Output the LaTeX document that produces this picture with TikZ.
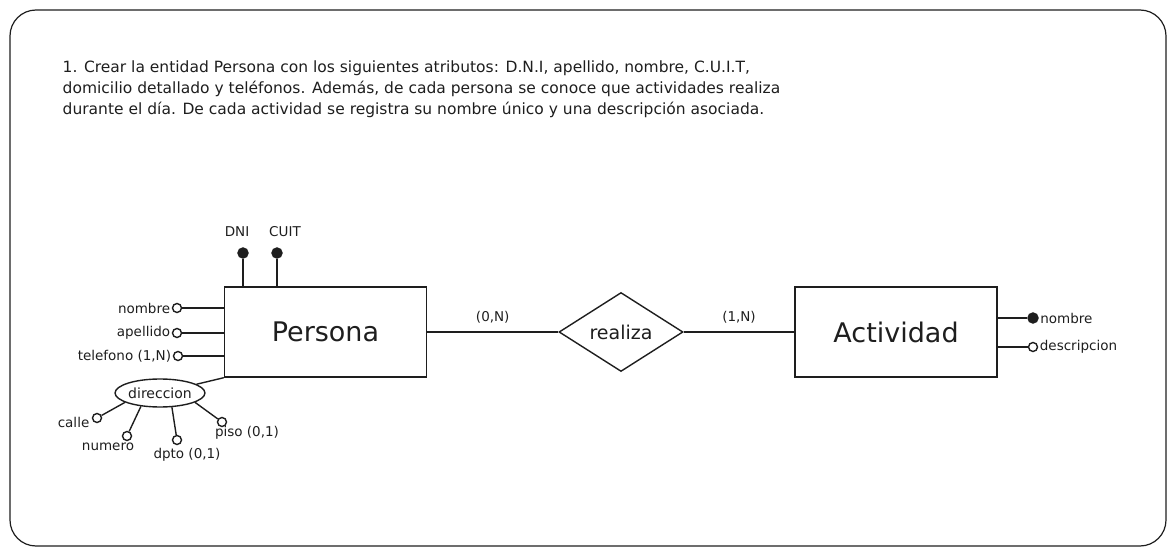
\documentclass[tikz,border=0pt]{standalone}
\usepackage{fontspec}
\setmainfont{DejaVu Sans}
\usetikzlibrary{shapes.geometric, positioning, calc}
\definecolor{ink}{HTML}{1E1E1E}

\begin{document}
\begin{tikzpicture}[x=1pt, y=-1pt, line width=1.4pt, color=ink,
    entidad/.style={draw, rectangle, minimum width=202pt, minimum height=90pt, font=\fontsize{27}{27}\selectfont},
    relacion/.style={draw, diamond, minimum width=124pt, minimum height=79pt, inner sep=0pt, font=\fontsize{19}{19}\selectfont},
    atrib/.style={circle, draw, fill=white, inner sep=0pt, minimum size=9pt},
    clave/.style={circle, draw, fill=ink, inner sep=0pt, minimum size=10pt},
    etiq/.style={inner sep=1pt, font=\fontsize{13.5}{13.5}\selectfont}]

  \useasboundingbox (0,0) rectangle (1176,556);
  \draw[line width=1.2pt, rounded corners=26pt] (10,10) rectangle (1166,546);

  \node[anchor=north west, align=left, inner sep=0pt, font=\fontsize{15.5}{20.8}\selectfont] (enunciado) at (62,60)
    {1. Crear la entidad Persona con los siguientes atributos: D.N.I, apellido, nombre, C.U.I.T,\\
     domicilio detallado y teléfonos. Además, de cada persona se conoce que actividades realiza\\
     durante el día. De cada actividad se registra su nombre único y una descripción asociada.};

  \node[entidad] (persona) at (325.5,332) {Persona};
  \node[relacion] (realiza) at (621,332) {realiza};
  \node[entidad] (actividad) at (896,332) {Actividad};

  \draw (persona) -- node[etiq, above=7pt] (card1) {(0,N)} (realiza);
  \draw (realiza) -- node[etiq, above=7pt] (card2) {(1,N)} (actividad);

  \node[clave] (dni) at (243,253) {};
  \node[clave] (cuit) at (277,253) {};
  \draw (dni) -- (dni |- persona.north);
  \draw (cuit) -- (cuit |- persona.north);
  \node[etiq] (dnilbl) at (237,232) {DNI};
  \node[etiq] (cuitlbl) at (285,232) {CUIT};

  \node[atrib] (nom) at (177,308) {};
  \node[atrib] (ape) at (177,333) {};
  \node[atrib] (tel) at (178,356) {};
  \draw (nom) -- (nom -| persona.west);
  \draw (ape) -- (ape -| persona.west);
  \draw (tel) -- (tel -| persona.west);
  \node[etiq, left=0pt of nom] (nomlbl) {nombre};
  \node[etiq, left=0pt of ape] (apelbl) {apellido};
  \node[etiq, left=0pt of tel] (tellbl) {telefono (1,N)};

  \node[draw, ellipse, minimum width=89pt, minimum height=28pt, inner sep=0pt, font=\fontsize{14}{14}\selectfont] (dir) at (160,393) {direccion};
  \draw (dir) -- (persona.south west);

  \node[atrib] (calle) at (97,418) {};
  \node[atrib] (numero) at (127,436) {};
  \node[atrib] (dpto) at (177,440) {};
  \node[atrib] (piso) at (222,422) {};
  \draw (calle) -- (dir.195);
  \draw (numero) -- (dir.215);
  \draw (dpto) -- (dir.310);
  \draw (piso) -- (dir.345);
  \node[etiq, anchor=east] (callelbl) at (91,422) {calle};
  \node[etiq] (numerolbl) at (108,447) {numero};
  \node[etiq] (dptolbl) at (187,455) {dpto (0,1)};
  \node[etiq] (pisolbl) at (247,433) {piso (0,1)};

  \node[clave] (actnom) at (1033,318) {};
  \node[atrib] (actdesc) at (1033,347) {};
  \draw (actnom) -- (actnom -| actividad.east);
  \draw (actdesc) -- (actdesc -| actividad.east);
  \node[etiq, right=0pt of actnom] (actnomlbl) {nombre};
  \node[etiq, right=0pt of actdesc] (actdesclbl) {descripcion};
\end{tikzpicture}
\end{document}
